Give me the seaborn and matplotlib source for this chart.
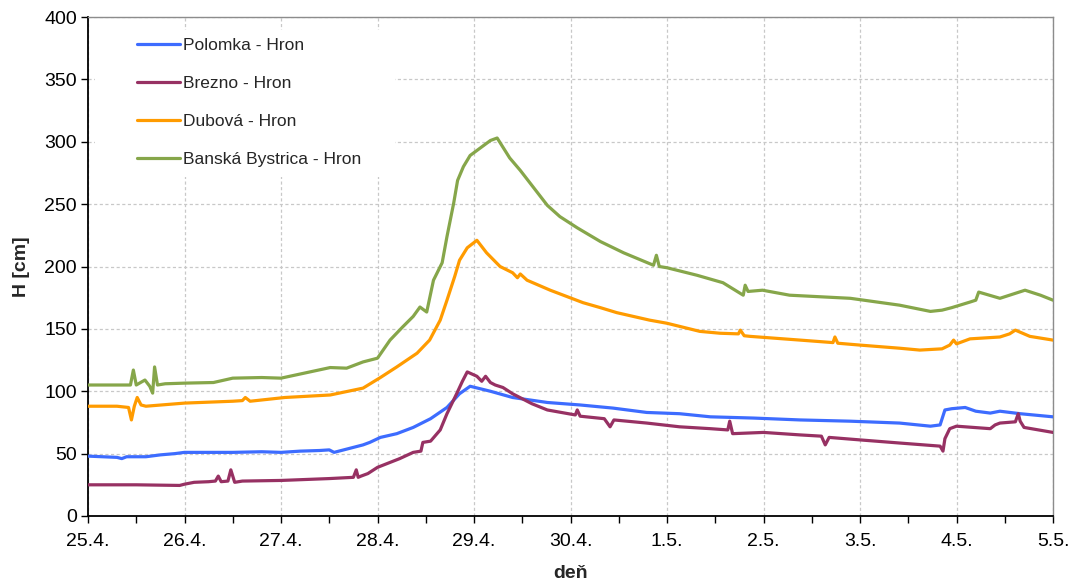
import matplotlib
matplotlib.use("Agg")
import matplotlib.pyplot as plt
from matplotlib.ticker import MultipleLocator
from matplotlib.lines import Line2D
from matplotlib.patches import Rectangle
import seaborn as sns
import pandas as pd

# Water level H [cm] at four gauging stations on the Hron river.
# Time is given in days from 25.4. 00:00.
series_names = ["Polomka - Hron", "Brezno - Hron", "Dubová - Hron", "Banská Bystrica - Hron"]
series_colors = ["#3d6cff", "#973163", "#ff9b00", "#86a64a"]

t_polomka = [0, 0.15, 0.3, 0.35, 0.4, 0.6, 0.75, 0.9, 1.0, 1.3, 1.5, 1.8, 2.0, 2.2, 2.4,
             2.5, 2.55, 2.6, 2.75, 2.85, 2.92, 3.03, 3.2, 3.37, 3.55, 3.72, 3.85, 3.96, 4.17, 4.4,
             4.76, 5.1, 5.44, 5.79, 6.13, 6.45, 6.9, 7.38, 7.9, 8.41, 8.73, 8.83, 8.88, 8.95, 9.09,
             9.2, 9.35, 9.45, 9.66, 10.0]
h_polomka = [48, 47.5, 47, 46, 47.5, 47.5, 49, 50, 51, 51, 51, 51.5, 51, 52, 52.5,
             53, 51, 52, 55, 57, 59, 63, 66, 71, 78, 87, 98, 104, 100, 95,
             91, 89, 86.5, 83, 82, 79.5, 78.5, 77, 76, 74.5, 72, 73, 85, 86, 87,
             84, 82.5, 84, 82, 79.5]

t_brezno = [0, 0.5, 0.95, 1.0, 1.1, 1.25, 1.32, 1.35, 1.38, 1.45, 1.48, 1.52, 1.6, 2.0, 2.5,
            2.75, 2.78, 2.8, 2.83, 2.9, 3.0, 3.23, 3.37, 3.45, 3.47, 3.55, 3.65, 3.72, 3.82, 3.88,
            3.93, 4.03, 4.08, 4.12, 4.17, 4.22, 4.3, 4.4, 4.6, 4.76, 5.05, 5.07, 5.1, 5.35, 5.41,
            5.45, 5.79, 6.13, 6.45, 6.63, 6.65, 6.68, 7.0, 7.38, 7.6, 7.64, 7.68, 8.0, 8.41, 8.83,
            8.86, 8.88, 8.93, 9.0, 9.35, 9.4, 9.45, 9.61, 9.64, 9.66, 9.7, 10.0]
h_brezno = [25, 25, 24.5, 25.5, 27, 27.5, 28, 32, 27.5, 28, 37, 27, 28, 28.5, 30,
            31, 37, 31, 32, 34, 39, 46, 51, 52, 59, 60, 69, 82, 98, 108,
            115.5, 112, 108, 112, 107, 105, 103, 98, 90, 85, 81, 85, 80, 78, 71.5,
            77, 74.5, 71.5, 70, 69, 76, 66, 67, 65, 64, 57, 63, 61, 58.5, 56,
            52, 62, 70, 72, 70, 73, 74.5, 75.5, 82, 76, 71, 67]

t_dubova = [0, 0.3, 0.42, 0.45, 0.48, 0.51, 0.55, 0.6, 1.0, 1.5, 1.6, 1.63, 1.68, 2.04, 2.51,
            2.85, 3.03, 3.2, 3.41, 3.54, 3.65, 3.72, 3.8, 3.85, 3.93, 4.03, 4.13, 4.27, 4.4, 4.45,
            4.48, 4.55, 4.79, 4.96, 5.13, 5.31, 5.48, 5.65, 5.82, 6.0, 6.34, 6.55, 6.74, 6.76, 6.8,
            6.86, 7.38, 7.72, 7.74, 7.77, 8.0, 8.41, 8.62, 8.85, 8.93, 8.97, 9.0, 9.14, 9.45, 9.55,
            9.61, 9.7, 9.76, 10.0]
h_dubova = [88, 88, 87, 77, 88, 95, 89, 88, 90.5, 92, 92.5, 95, 92, 95, 97,
            102.5, 111, 119.5, 130.5, 141, 157, 173, 192, 205, 215, 221, 211, 200, 195, 191,
            194, 189, 181, 176, 171, 167, 163, 160, 157, 154.5, 148, 146.5, 146, 149, 144.5,
            144, 141, 139, 143.5, 138.5, 137, 134.5, 133, 134, 137, 141, 138, 142, 143.5, 146,
            149, 146, 144, 141]

t_bbystrica = [0, 0.3, 0.44, 0.47, 0.5, 0.59, 0.64, 0.67, 0.69, 0.72, 0.8, 1.0, 1.3, 1.5, 1.8,
               2.0, 2.51, 2.68, 2.85, 3.0, 3.13, 3.26, 3.37, 3.44, 3.51, 3.58, 3.67, 3.72, 3.79, 3.83,
               3.89, 3.96, 4.03, 4.1, 4.17, 4.24, 4.37, 4.48, 4.65, 4.76, 4.89, 5.07, 5.31, 5.55, 5.86,
               5.89, 5.92, 6.0, 6.31, 6.58, 6.79, 6.81, 6.84, 6.99, 7.27, 7.9, 8.41, 8.73, 8.85, 8.95,
               9.14, 9.2, 9.23, 9.45, 9.71, 9.87, 10.0]
h_bbystrica = [105, 105, 105, 117, 105, 109, 104, 98.5, 119.5, 105, 106, 106.5, 107, 110.5, 111,
               110.5, 119, 118.5, 123.5, 126.5, 141, 151.5, 160, 167.5, 163.5, 189, 203, 224, 251, 269,
               280, 289, 293, 297, 301, 303, 287, 277, 260, 249, 240, 231, 220, 211, 201,
               209, 200, 199, 193, 187, 177, 185, 180, 181, 177, 174.5, 169, 164, 165, 167,
               171.5, 173, 179.5, 174.5, 181, 177, 173]

day_labels = ["25.4.", "26.4.", "27.4.", "28.4.", "29.4.", "30.4.",
              "1.5.", "2.5.", "3.5.", "4.5.", "5.5."]

frames = []
for name, t, h in zip(series_names,
                      [t_polomka, t_brezno, t_dubova, t_bbystrica],
                      [h_polomka, h_brezno, h_dubova, h_bbystrica]):
    frames.append(pd.DataFrame({"t": t, "H": h, "stanica": name}))
df = pd.concat(frames, ignore_index=True)

sns.set_theme(style="white")
plt.rcParams["font.family"] = ["Liberation Sans", "DejaVu Sans"]

W, H = 1075, 585
fig = plt.figure(figsize=(W / 100, H / 100), dpi=100)
ax_l, ax_r, ax_t, ax_b = 88, 1053, 17, 516
ax = fig.add_axes([ax_l / W, 1 - ax_b / H, (ax_r - ax_l) / W, (ax_b - ax_t) / H])

sns.lineplot(data=df, x="t", y="H", hue="stanica", hue_order=series_names,
             palette=series_colors, linewidth=2.3, estimator=None, sort=True,
             ax=ax, legend=False, zorder=3)

ax.set_xlim(0, 10)
ax.set_ylim(0, 400)
ax.xaxis.set_minor_locator(MultipleLocator(0.5))
ax.yaxis.set_major_locator(MultipleLocator(50))
ax.set_xticks(range(len(day_labels)))
ax.set_xticklabels(day_labels)

ax.grid(True, which="major", color="#c8c8c8", linestyle=(0, (2.5, 2)), linewidth=0.9)
ax.set_axisbelow(True)

for side in ["left", "bottom"]:
    ax.spines[side].set_color("black")
    ax.spines[side].set_linewidth(1.3)
for side in ["top", "right"]:
    ax.spines[side].set_color("#8c8c8c")
    ax.spines[side].set_linewidth(1.0)

ax.tick_params(axis="both", which="major", direction="out", length=5, width=1,
               color="black", labelsize=14, labelcolor="black", pad=3, bottom=True, left=True)
ax.tick_params(axis="x", which="minor", direction="out", length=5, width=1, color="black", bottom=True)
ax.tick_params(axis="x", which="major", pad=7)

ax.set_xlabel("deň", fontsize=14, fontweight="bold", labelpad=11)
ax.set_ylabel("H [cm]", fontsize=14, fontweight="bold", labelpad=10)

# White panel behind the legend, hiding the grid there
def ax_frac(px, py):
    return (px - ax_l) / (ax_r - ax_l), (ax_b - py) / (ax_b - ax_t)

x0, y0 = ax_frac(95, 177)
x1, y1 = ax_frac(395, 30)
ax.add_patch(Rectangle((x0, y0), x1 - x0, y1 - y0, transform=ax.transAxes,
                       facecolor="white", edgecolor="none", zorder=1))

handles = [Line2D([], [], color=c, linewidth=2.3) for c in series_colors]
lx, ly = ax_frac(137, 38)
ax.legend(handles, series_names, loc="upper left", bbox_to_anchor=(lx, ly),
          frameon=False, fontsize=12.5, handlelength=2.45, handletextpad=0.2,
          labelspacing=1.32, borderpad=0, borderaxespad=0)

fig.savefig("out.png", dpi=100)
